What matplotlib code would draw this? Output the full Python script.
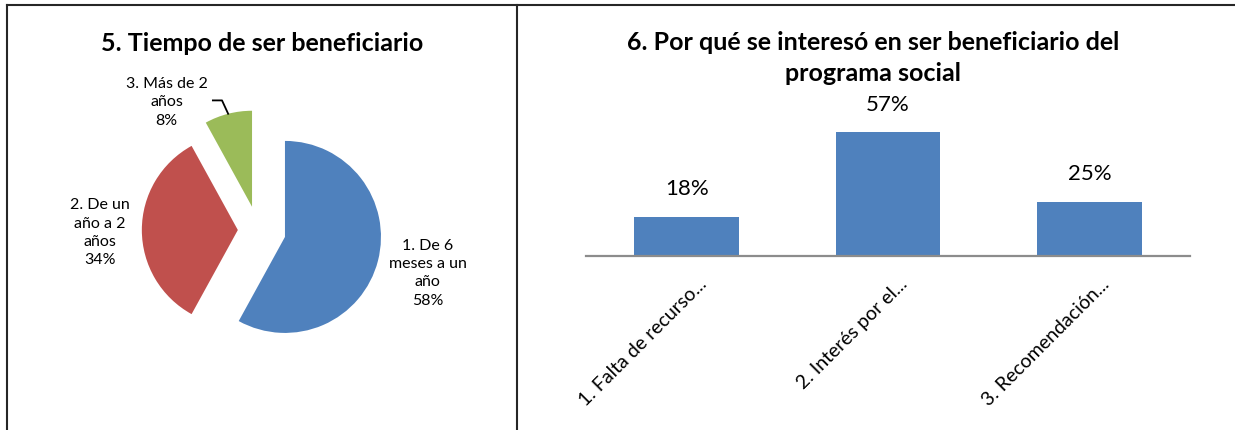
import matplotlib
matplotlib.use('Agg')
import matplotlib.pyplot as plt
import matplotlib.transforms as mtransforms
import numpy as np
from matplotlib.lines import Line2D

plt.rcParams['font.family'] = ['Lato', 'DejaVu Sans']

# datos - grafico 5 (pastel)
pie_labels = ['1. De 6\nmeses a un\naño', '2. De un\naño a 2\naños', '3. Más de 2\naños']
pie_values = [58, 34, 8]
pie_colors = ['#4F81BD', '#C0504D', '#9BBB59']
pie_explode = [0.29, 0.21, 0.25]

# datos - grafico 6 (barras)
bar_labels = ['1. Falta de recurso...', '2. Interés por el...', '3. Recomendación...']
bar_values = [18, 57, 25]

W, H = 1235, 430
fig = plt.figure(figsize=(W / 100, H / 100), dpi=100)
fig.patch.set_facecolor('white')

# marco de la imagen
for xs, ys in [([7, W], [4.5, 4.5]), ([7, 7], [4.5, H]), ([517, 517], [4.5, H])]:
    fig.add_artist(Line2D([x / W for x in xs], [1 - y / H for y in ys],
                          color='#262626', lw=1.5, transform=fig.transFigure))

# ---- pastel ----
cx, cy, R = 258, 230, 96          # centro y radio en pixeles
x0, x1, y0, y1 = 9, 515, 6, 430
ax1 = fig.add_axes([x0 / W, 1 - y1 / H, (x1 - x0) / W, (y1 - y0) / H])
wedges, _ = ax1.pie(pie_values, colors=pie_colors, explode=pie_explode,
                    startangle=90, counterclock=False,
                    wedgeprops=dict(linewidth=0))
ax1.set_xlim((x0 - cx) / R, (x1 - cx) / R)
ax1.set_ylim((cy - y1) / R, (cy - y0) / R)
ax1.set_aspect('auto')
ax1.axis('off')

label_pos = [(1.77, -0.45), (-1.65, -0.03), (-0.95, 1.33)]
for lab, v, (tx, ty) in zip(pie_labels, pie_values, label_pos):
    ax1.text(tx, ty, f'{lab}\n{v}%', ha='center', va='center',
             fontsize=11.5, linespacing=1.4, color='black')

# linea guia del sector verde
w = wedges[2]
mid = np.deg2rad((w.theta1 + w.theta2) / 2)
ex, ey = w.center[0] + np.cos(mid), w.center[1] + np.sin(mid)
ax1.plot([-0.47, -0.375, ex], [1.35, 1.35, ey], color='black', lw=1.3)

fig.text(262 / W, 1 - 51 / H, '5. Tiempo de ser beneficiario', ha='center',
         va='baseline', fontsize=18, fontweight='bold', color='black')

# ---- barras ----
bx0, bx1, base = 586, 1190, 256
ppu = 2.17                         # pixeles por punto porcentual
ymax = 60
ax2 = fig.add_axes([bx0 / W, 1 - base / H, (bx1 - bx0) / W, ymax * ppu / H])
x = np.arange(len(bar_values))
ax2.bar(x, bar_values, width=0.52, color='#4F81BD')
ax2.set_xlim(-0.5, len(bar_values) - 0.5)
ax2.set_ylim(0, ymax)
for s in ['top', 'right', 'left']:
    ax2.spines[s].set_visible(False)
ax2.spines['bottom'].set_color('#8c8c8c')
ax2.spines['bottom'].set_linewidth(1.6)
ax2.set_yticks([])
ax2.tick_params(axis='x', length=0, pad=12)
ax2.set_xticks(x)
ax2.set_xticklabels(bar_labels, rotation=45, ha='right', rotation_mode='anchor',
                    fontsize=14, color='black')
shift = mtransforms.ScaledTranslation(0.11, -0.03, fig.dpi_scale_trans)
for lbl in ax2.get_xticklabels():
    lbl.set_transform(lbl.get_transform() + shift)
for xi, v in zip(x, bar_values):
    ax2.annotate(f'{v}%', (xi, v), xytext=(0, 20), textcoords='offset points',
                 ha='center', va='center', fontsize=16, color='black',
                 annotation_clip=False)

fig.text(873 / W, 1 - 50 / H,
         '6. Por qué se interesó en ser beneficiario del', ha='center',
         va='baseline', fontsize=18, fontweight='bold', color='black')
fig.text(873 / W, 1 - 81 / H, 'programa social', ha='center',
         va='baseline', fontsize=18, fontweight='bold', color='black')

fig.savefig('out.png', dpi=100, facecolor='white')
